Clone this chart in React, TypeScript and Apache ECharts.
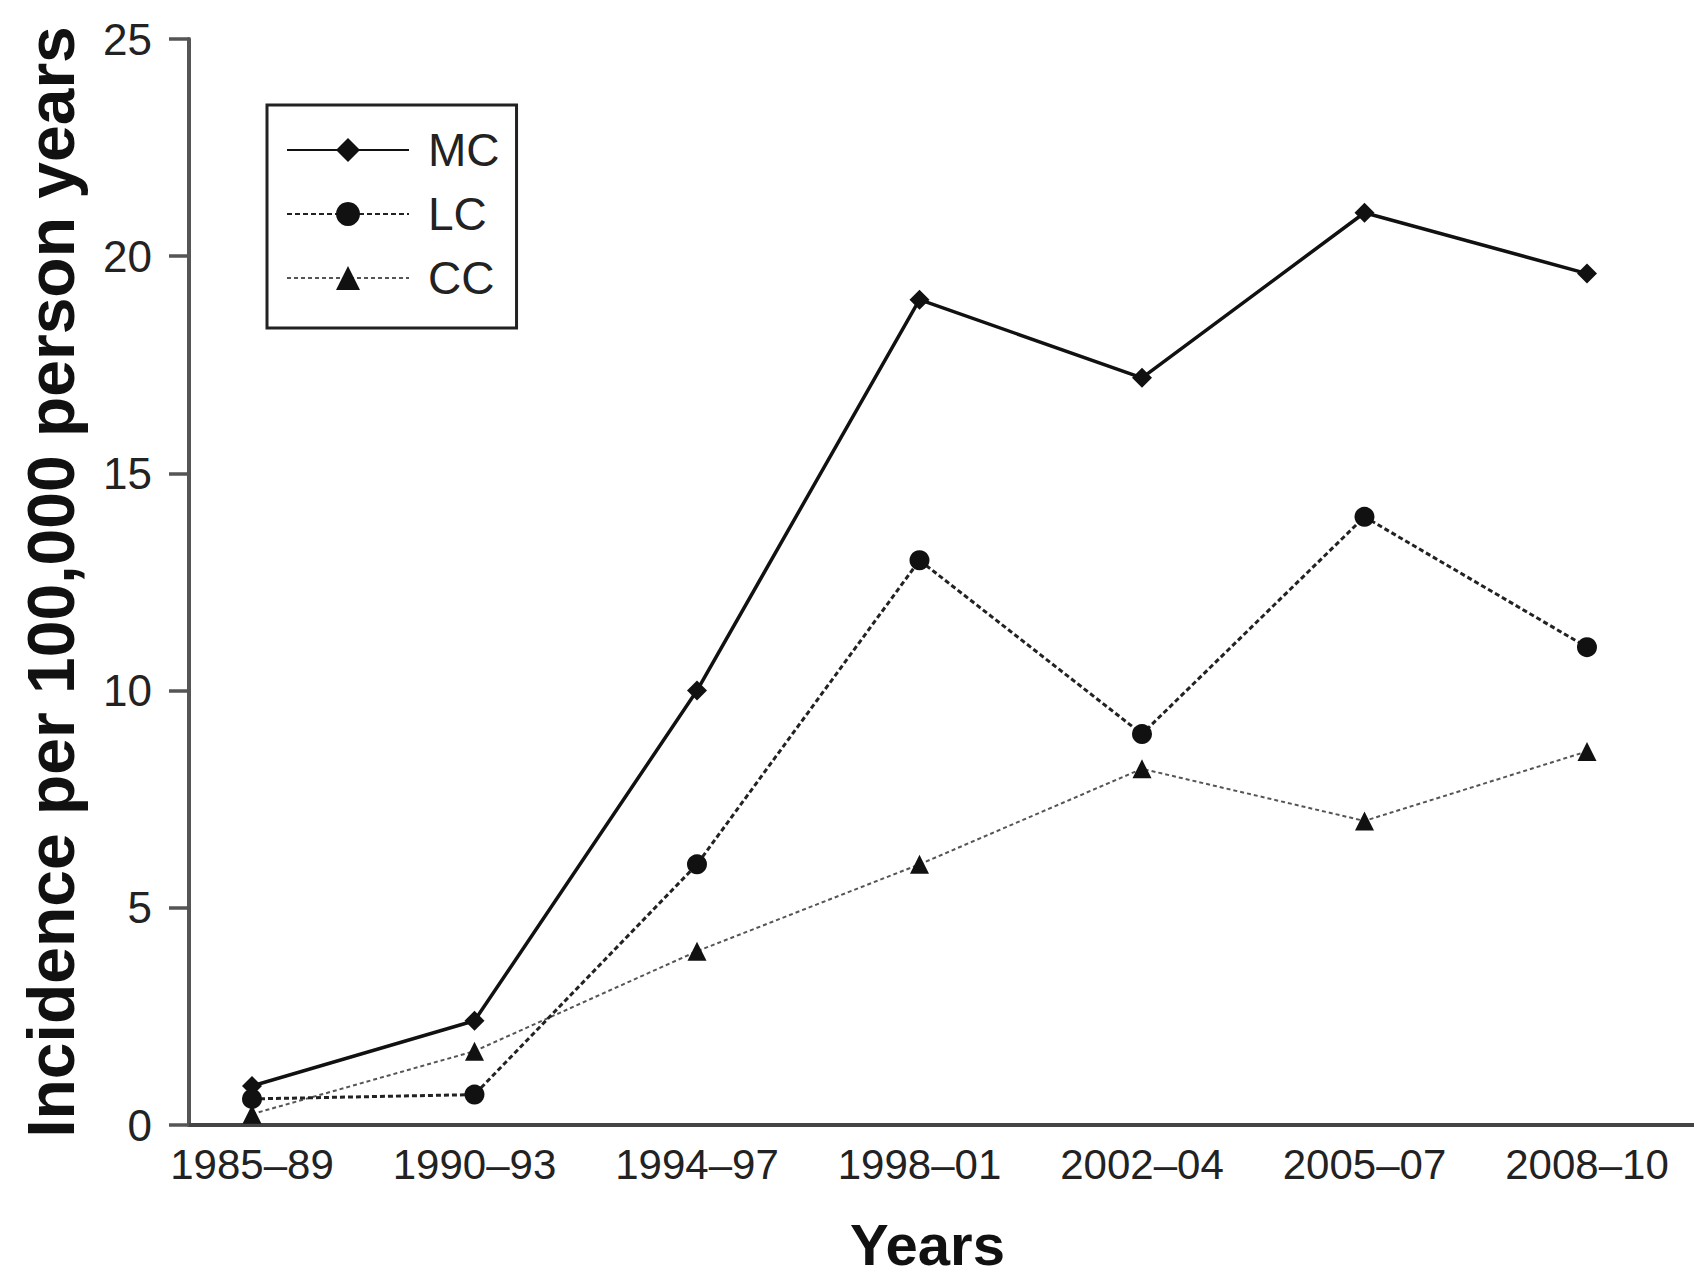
import React, { useEffect, useRef } from "react";
import * as echarts from "echarts";

const categories = ["1985\u201389", "1990\u201393", "1994\u201397", "1998\u201301", "2002\u201304", "2005\u201307", "2008\u201310"];
const mcValues = [0.9, 2.4, 10, 19, 17.2, 21, 19.6];
const lcValues = [0.6, 0.7, 6, 13, 9, 14, 11];
const ccValues = [0.25, 1.7, 4, 6, 8.2, 7, 8.6];
const yTicks = [0, 5, 10, 15, 20, 25];

const FONT = "'Liberation Sans', Arial, Helvetica, sans-serif";

const toPairs = (vals: number[]) => vals.map((v, i) => [i, v]);

export default function App() {
  const ref = useRef<HTMLDivElement>(null);
  useEffect(() => {
    document.body.style.margin = "0";
    document.body.style.overflow = "hidden";
    const chart = echarts.init(ref.current!, null, { renderer: "svg" });
    const axisColor = "#555";
    chart.setOption({
      animation: false,
      backgroundColor: "#fff",
      grid: { left: 189, right: 0, top: 39, bottom: 153, containLabel: false },
      legend: {
        orient: "vertical",
        left: 267,
        top: 105,
        data: ["MC", "LC", "CC"],
        itemWidth: 122,
        itemHeight: 30,
        itemGap: 18,
        borderColor: "#222",
        borderWidth: 3,
        padding: [22, 17, 27, 19],
        backgroundColor: "#fff",
        textStyle: {
          fontFamily: FONT,
          fontSize: 46,
          lineHeight: 46,
          color: "#222",
          padding: [0, 0, 0, 14],
        },
      },
      xAxis: {
        type: "value",
        min: -0.2831,
        max: 6.481,
        axisLine: { show: true, onZero: false, lineStyle: { color: "#444", width: 4 } },
        axisTick: { show: false },
        splitLine: { show: false },
        axisLabel: {
          customValues: categories.map((_, i) => i),
          formatter: (v: number) => categories[Math.round(v)] ?? "",
          fontFamily: FONT,
          fontSize: 42,
          color: "#222",
          margin: 18,
        },
        name: "Years",
        nameLocation: "middle",
        nameGap: 90,
        nameTextStyle: { fontFamily: FONT, fontSize: 58, fontWeight: "bold", color: "#111", padding: [0, 28, 0, 0] },
      },
      yAxis: {
        type: "value",
        min: 0,
        max: 25,
        interval: 5,
        axisLine: { show: true, onZero: false, lineStyle: { color: axisColor, width: 4 } },
        axisTick: { show: true, length: 20, lineStyle: { color: axisColor, width: 3.5 } },
        splitLine: { show: false },
        axisLabel: {
          customValues: yTicks,
          fontFamily: FONT,
          fontSize: 44,
          color: "#222",
          margin: 37,
        },
        name: "Incidence per 100,000 person years",
        nameLocation: "middle",
        nameGap: 105,
        nameTextStyle: { fontFamily: FONT, fontSize: 66, fontWeight: "bold", color: "#111" },
      },
      series: [
        {
          name: "MC",
          type: "line",
          data: toPairs(mcValues),
          symbol: "diamond",
          symbolSize: 20,
          lineStyle: { color: "#111", width: 3.5, type: "solid" },
          itemStyle: { color: "#111" },
          z: 4,
        },
        {
          name: "LC",
          type: "line",
          data: toPairs(lcValues),
          symbol: "circle",
          symbolSize: 20,
          lineStyle: { color: "#222", width: 3, type: [5, 3] },
          itemStyle: { color: "#111" },
          z: 3,
        },
        {
          name: "CC",
          type: "line",
          data: toPairs(ccValues),
          symbol: "triangle",
          symbolSize: 19,
          lineStyle: { color: "#555", width: 2, type: [4, 3] },
          itemStyle: { color: "#111" },
          z: 2,
        },
      ],
    });
    return () => chart.dispose();
  }, []);
  return <div ref={ref} style={{ width: 1694, height: 1278 }} />;
}
